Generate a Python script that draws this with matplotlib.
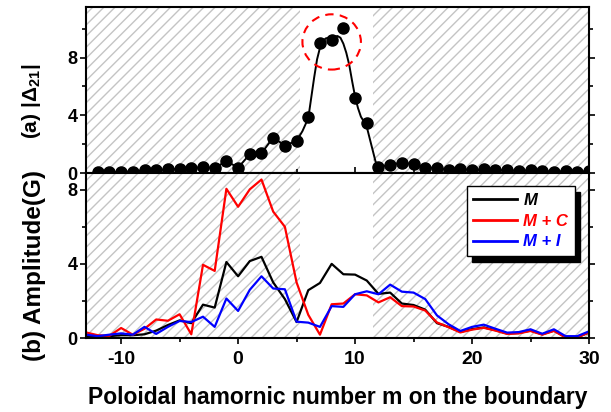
import matplotlib
matplotlib.use('Agg')
import matplotlib.pyplot as plt
from matplotlib.patches import Ellipse

plt.rcParams['font.family'] = ['Liberation Sans', 'DejaVu Sans']
plt.rcParams['font.weight'] = 'bold'
plt.rcParams['axes.unicode_minus'] = False
plt.rcParams['mathtext.fontset'] = 'custom'
plt.rcParams['mathtext.rm'] = 'Liberation Sans:bold'
plt.rcParams['mathtext.bf'] = 'Liberation Sans:bold'
plt.rcParams['mathtext.it'] = 'Liberation Sans:bold:italic'
plt.rcParams['mathtext.default'] = 'bf'

# (a) |Delta_21| at integer m
m_top = list(range(-12, 31))
delta21 = [0.1, 0.05, 0.1, 0.1, 0.2, 0.2, 0.25, 0.3, 0.35, 0.4, 0.35, 0.83, 0.37,
           1.3, 1.37, 2.46, 1.9, 2.23, 3.85, 9.0, 9.18, 10.07, 5.2, 3.5, 0.44,
           0.55, 0.73, 0.6, 0.37, 0.37, 0.2, 0.3, 0.2, 0.25, 0.2, 0.2, 0.15,
           0.2, 0.15, 0.1, 0.13, 0.1, 0.13]

# smooth fitted curve across the peak
peak_m = [5.5, 6, 6.25, 6.5, 6.75, 7, 7.25, 7.5, 7.75, 8, 8.25, 8.5, 8.75, 9,
          9.25, 9.5, 9.75, 10, 10.25, 10.5, 10.75, 11, 11.25, 11.5, 11.75]
peak_v = [2.9, 3.8, 5.2, 6.6, 7.87, 8.68, 9.14, 9.33, 9.37, 9.36, 9.45, 9.49,
          9.37, 8.96, 8.33, 7.5, 6.36, 5.3, 4.5, 3.9, 3.57, 3.2, 2.4, 1.6, 0.8]

# (b) amplitudes at m = -13 .. 30
m_bot = list(range(-13, 31))
amp_M = [0.1, 0.05, 0.1, 0.15, 0.15, 0.2, 0.4, 0.7, 0.95, 0.8, 1.8, 1.64,
         4.1, 3.33, 4.15, 4.38, 3.0, 2.1, 0.86, 2.58, 2.97, 4.0, 3.44, 3.42,
         3.1, 2.38, 2.45, 1.86, 1.78, 1.53, 0.8, 0.6, 0.33, 0.48, 0.57, 0.42,
         0.24, 0.27, 0.4, 0.2, 0.4, 0.04, 0.04, 0.3]
amp_MC = [0.3, 0.15, 0.12, 0.54, 0.18, 0.5, 1.0, 0.93, 1.28, 0.2, 3.95, 3.62,
          8.05, 7.08, 8.02, 8.55, 6.82, 6.0, 3.0, 1.25, 0.18, 1.82, 1.86, 2.36,
          2.3, 1.92, 2.2, 1.72, 1.7, 1.48, 0.84, 0.58, 0.3, 0.45, 0.55, 0.4,
          0.22, 0.25, 0.38, 0.18, 0.38, 0.03, 0.03, 0.3]
amp_MI = [0.18, 0.1, 0.18, 0.25, 0.18, 0.6, 0.22, 0.6, 0.92, 0.86, 1.15, 0.6,
          2.13, 1.46, 2.6, 3.33, 2.67, 2.63, 0.88, 0.83, 0.6, 1.72, 1.68, 2.36,
          2.52, 2.36, 2.88, 2.5, 2.45, 2.1, 1.22, 0.74, 0.38, 0.6, 0.72, 0.5,
          0.29, 0.32, 0.47, 0.23, 0.47, 0.1, 0.1, 0.36]
series_names = ['M', 'M + C', 'M + I']
series_colors = ['black', 'red', 'blue']

hatch_spans = [(-13, 5.3), (11.5, 30)]

fig = plt.figure(figsize=(6.11, 4.12), dpi=100)
ax1 = fig.add_axes([0.1408, 0.58, 0.8232, 0.403])
ax2 = fig.add_axes([0.1408, 0.1796, 0.8232, 0.4004])

for ax in (ax1, ax2):
    for a, b in hatch_spans:
        ax.axvspan(a, b, facecolor='none', edgecolor='#c4c4c4', hatch='///',
                   linewidth=0, zorder=0)
    for s in ax.spines.values():
        s.set_linewidth(1.5)
    ax.set_xlim(-13, 30)
    ax.set_xticks([-10, 0, 10, 20, 30])
    ax.set_xticks([-5, 5, 15, 25], minor=True)
    ax.tick_params(which='both', direction='out', width=1.2, right=True)
    ax.tick_params(axis='x', labelsize=14, pad=5)
    ax.tick_params(axis='y', labelsize=13, pad=2)
    ax.tick_params(which='major', length=4)
    ax.tick_params(which='minor', length=3)

# top panel
line_m = [m for m in m_top if m <= 5] + peak_m + [m for m in m_top if m >= 12]
line_v = ([v for m, v in zip(m_top, delta21) if m <= 5] + peak_v +
          [v for m, v in zip(m_top, delta21) if m >= 12])
ax1.plot(line_m, line_v, color='black', lw=1.4, zorder=2)
ax1.plot(m_top, delta21, 'o', color='black', ms=8, zorder=3)
ax1.add_patch(Ellipse((8.0, 9.08), 5.0, 3.83, fill=False, edgecolor='red',
                      ls=(0, (4, 3)), lw=1.5, zorder=4))
ax1.set_ylim(0, 11.5)
ax1.set_yticks([0, 4, 8])
ax1.set_yticks([2, 6, 10], minor=True)
ax1.tick_params(axis='x', labelbottom=False)
ax1.set_ylabel(r'(a) $|\Delta_{21}|$', fontsize=15, fontweight='bold')
ax1.yaxis.set_label_coords(-0.085, 0.43)

# bottom panel
for vals, name, c in zip([amp_M, amp_MC, amp_MI], series_names, series_colors):
    ax2.plot(m_bot, vals, color=c, lw=1.6, label=name)
ax2.set_ylim(0, 8.9)
ax2.set_yticks([0, 4, 8])
ax2.set_yticks([2, 6], minor=True)
ax2.tick_params(top=True, which='both')
ax2.set_ylabel('(b) Amplitude(G)', fontsize=17.5, fontweight='bold')
ax2.yaxis.set_label_coords(-0.08, 0.44)
ax2.set_xlabel('Poloidal hamornic number m on the boundary', fontsize=16.5,
               fontweight='bold', labelpad=13)

leg = ax2.legend(loc='upper right', bbox_to_anchor=(0.972, 0.921),
                 borderaxespad=0, fancybox=False,
                 shadow={'color': 'black', 'alpha': 1, 'ox': 4, 'oy': -4},
                 edgecolor='black', framealpha=1, handlelength=2.6,
                 borderpad=0.4, labelspacing=0.35, handletextpad=0.4,
                 prop={'size': 12, 'weight': 'bold', 'style': 'italic'})
leg.get_frame().set_linewidth(1.0)
for txt, c in zip(leg.get_texts(), series_colors):
    txt.set_color(c)
for h in leg.get_lines():
    h.set_linewidth(2)

fig.savefig('out.png', dpi=100)
